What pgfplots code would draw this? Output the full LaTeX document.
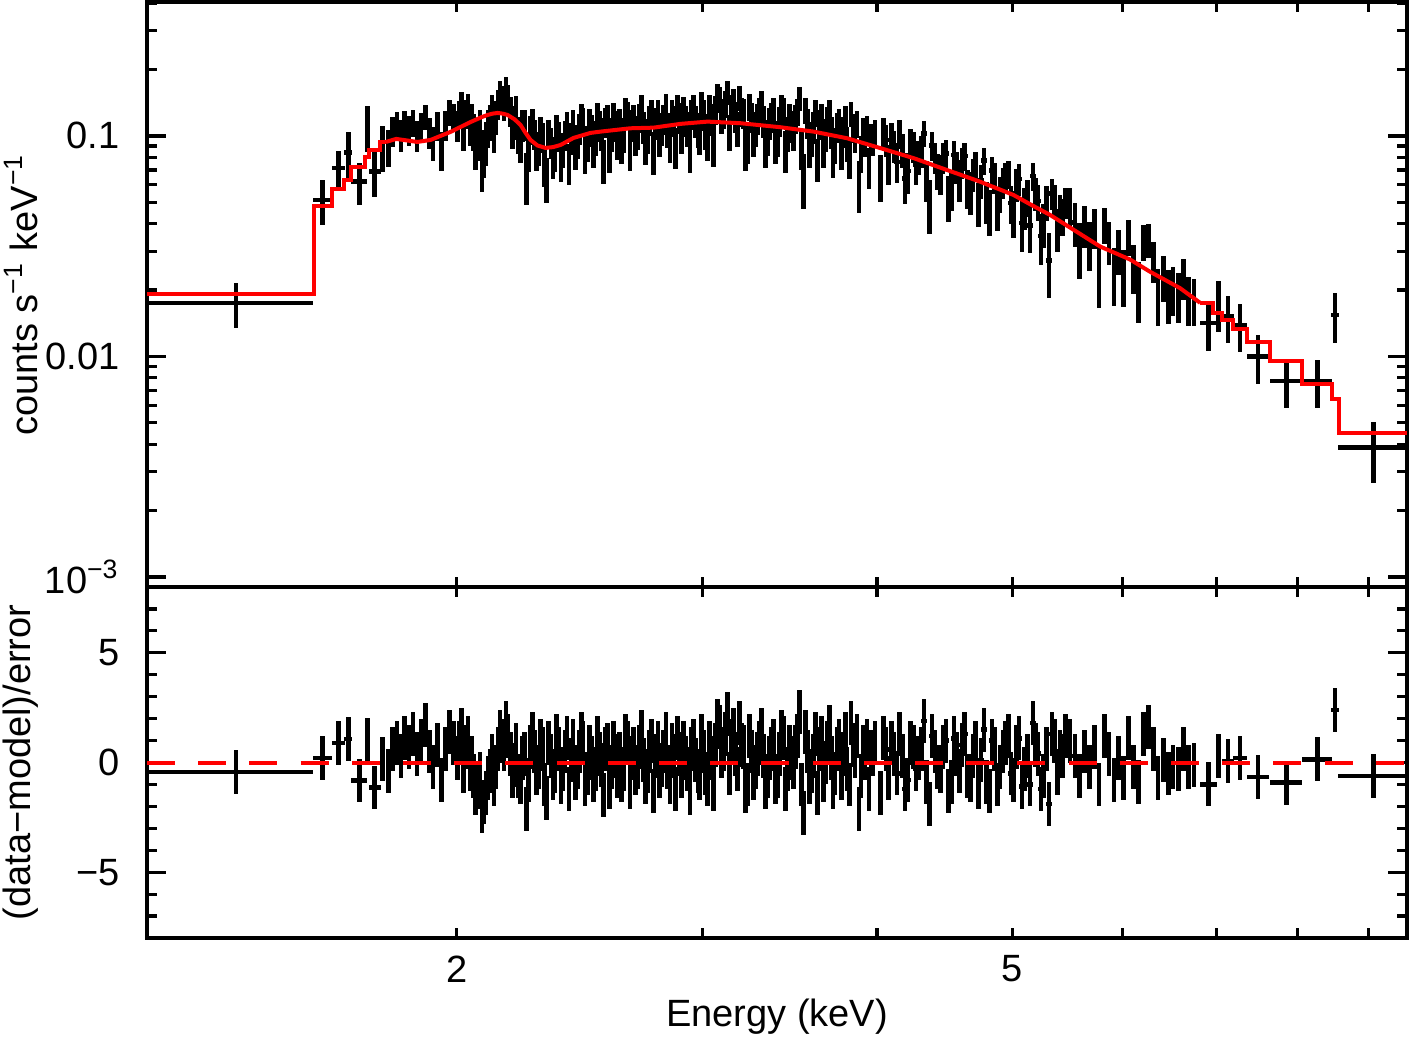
\documentclass[border=0pt]{standalone}
\usepackage{fontspec}
\setmainfont{Liberation Sans}
\usepackage{pgfplots}
\usepackage{pgfplotstable}
\pgfplotsset{compat=1.18}
\pgfplotstableread{
E dE y dy r
1.390 0.188 0.0175 0.0040 -0.44
1.603 0.024 0.0513 0.0120 0.21
1.645 0.018 0.0714 0.0137 0.89
1.673 0.011 0.0840 0.0200 1.07
1.703 0.022 0.0620 0.0134 -0.82
1.726 0.004 0.1102 0.0260 1.04
1.747 0.017 0.0689 0.0162 -1.14
1.769 0.004 0.0894 0.0210 0.14
1.788 0.004 0.0894 0.0170 -0.39
1.800 0.006 0.1058 0.0163 0.6
1.812 0.006 0.1116 0.0165 0.9
1.824 0.006 0.1012 0.0164 0.3
1.836 0.006 0.1136 0.0163 1.1
1.849 0.006 0.1064 0.0162 0.7
1.861 0.006 0.1154 0.0161 1.3
1.874 0.006 0.1003 0.0160 0.4
1.886 0.006 0.1104 0.0160 1.0
1.899 0.006 0.1226 0.0162 1.7
1.912 0.006 0.1038 0.0163 0.5
1.924 0.006 0.0936 0.0165 -0.2
1.937 0.006 0.1120 0.0168 0.8
1.950 0.006 0.0867 0.0171 -0.8
1.963 0.006 0.1125 0.0174 0.6
1.976 0.006 0.1285 0.0176 1.4
1.990 0.006 0.1222 0.0180 0.9
2.003 0.006 0.1119 0.0184 0.2
2.016 0.006 0.1386 0.0188 1.5
2.030 0.006 0.1262 0.0192 0.7
2.044 0.006 0.1093 0.0196 -0.3
2.057 0.006 0.1052 0.0199 -0.6
2.071 0.006 0.0970 0.0203 -1.1
2.085 0.006 0.0761 0.0207 -2.2
2.099 0.006 0.0942 0.0210 -1.4
2.113 0.007 0.1166 0.0213 -0.4
2.127 0.007 0.1047 0.0214 -1.0
2.141 0.007 0.1400 0.0216 0.6
2.156 0.007 0.1474 0.0214 1.0
2.170 0.007 0.1631 0.0212 1.8
2.185 0.007 0.1302 0.0207 0.4
2.199 0.007 0.1163 0.0201 -0.1
2.214 0.007 0.1026 0.0194 -0.6
2.229 0.007 0.1128 0.0185 0.2
2.244 0.007 0.0660 0.0175 -2.1
2.259 0.007 0.1073 0.0163 0.7
2.274 0.007 0.1019 0.0160 0.5
2.289 0.007 0.0887 0.0156 -0.2
2.305 0.007 0.0988 0.0152 0.6
2.320 0.007 0.0644 0.0150 -1.6
2.336 0.007 0.0937 0.0152 0.3
2.352 0.007 0.0838 0.0153 -0.4
2.367 0.007 0.1000 0.0154 0.6
2.383 0.007 0.0875 0.0157 -0.3
2.399 0.008 0.1121 0.0160 1.1
2.415 0.008 0.0982 0.0164 0.1
2.432 0.008 0.0867 0.0167 -0.7
2.448 0.008 0.1082 0.0169 0.5
2.464 0.008 0.1163 0.0172 0.9
2.481 0.008 0.0935 0.0174 -0.5
2.498 0.008 0.1068 0.0176 0.2
2.514 0.008 0.0986 0.0177 -0.3
2.531 0.008 0.1115 0.0177 0.4
2.548 0.008 0.0781 0.0178 -1.5
2.566 0.008 0.1197 0.0179 0.8
2.583 0.008 0.1024 0.0180 -0.2
2.600 0.008 0.1119 0.0181 0.3
2.617 0.009 0.1142 0.0182 0.4
2.635 0.009 0.1020 0.0183 -0.3
2.652 0.009 0.1245 0.0184 0.9
2.670 0.009 0.1120 0.0184 0.2
2.687 0.009 0.0993 0.0184 -0.5
2.705 0.009 0.1215 0.0185 0.7
2.723 0.009 0.1105 0.0185 0.1
2.741 0.009 0.1014 0.0185 -0.4
2.759 0.009 0.1275 0.0185 1.0
2.777 0.009 0.1149 0.0186 0.3
2.796 0.009 0.0988 0.0187 -0.6
2.814 0.010 0.1200 0.0188 0.5
2.833 0.010 0.1075 0.0189 -0.2
2.852 0.010 0.1272 0.0190 0.8
2.870 0.010 0.0896 0.0191 -1.2
2.889 0.010 0.1210 0.0193 0.4
2.908 0.010 0.1311 0.0193 0.9
2.928 0.010 0.1083 0.0194 -0.3
2.947 0.010 0.1262 0.0195 0.6
2.967 0.010 0.1169 0.0195 0.1
2.986 0.010 0.1016 0.0196 -0.7
3.006 0.010 0.1255 0.0197 0.5
3.026 0.010 0.0964 0.0197 -1.0
3.046 0.010 0.1198 0.0197 0.2
3.066 0.010 0.1314 0.0197 0.8
3.086 0.010 0.1468 0.0196 1.6
3.107 0.010 0.1270 0.0196 0.6
3.127 0.010 0.1580 0.0196 2.2
3.148 0.010 0.1342 0.0195 1.0
3.169 0.010 0.1223 0.0195 0.4
3.190 0.010 0.1491 0.0194 1.8
3.211 0.011 0.1273 0.0193 0.7
3.232 0.011 0.0940 0.0193 -1.0
3.253 0.011 0.1225 0.0192 0.5
3.275 0.011 0.1086 0.0191 -0.2
3.296 0.011 0.1291 0.0190 0.9
3.318 0.011 0.1172 0.0190 0.3
3.340 0.011 0.0997 0.0189 -0.6
3.362 0.011 0.1219 0.0188 0.6
3.384 0.011 0.0933 0.0187 -0.9
3.406 0.011 0.1171 0.0186 0.4
3.429 0.011 0.1295 0.0185 1.1
3.451 0.011 0.1030 0.0184 -0.3
3.474 0.011 0.1116 0.0183 0.2
3.497 0.011 0.1201 0.0182 0.7
3.520 0.012 0.1484 0.0181 2.3
3.543 0.012 0.0646 0.0180 -2.3
3.567 0.012 0.1145 0.0179 0.5
3.590 0.012 0.0978 0.0178 -0.4
3.614 0.012 0.1272 0.0177 1.3
3.638 0.012 0.1139 0.0176 0.6
3.662 0.012 0.0886 0.0174 -0.8
3.686 0.012 0.1174 0.0173 0.9
3.710 0.012 0.1043 0.0172 0.2
3.734 0.012 0.0916 0.0170 -0.5
3.759 0.012 0.1162 0.0169 1.0
3.784 0.012 0.1051 0.0167 0.4
3.809 0.013 0.0926 0.0166 -0.3
3.834 0.013 0.1259 0.0164 1.8
3.859 0.013 0.1002 0.0162 0.3
3.885 0.013 0.0606 0.0160 -2.1
3.910 0.013 0.1042 0.0158 0.7
3.936 0.013 0.1075 0.0156 1.0
3.962 0.013 0.0984 0.0154 0.5
3.988 0.013 0.1033 0.0152 0.9
4.024 0.018 0.0658 0.0158 -1.4
4.060 0.018 0.0960 0.0156 0.6
4.097 0.018 0.0990 0.0153 0.9
4.134 0.018 0.0763 0.0151 -0.5
4.171 0.019 0.0867 0.0148 0.3
4.209 0.019 0.0693 0.0146 -0.8
4.247 0.019 0.0894 0.0143 0.7
4.285 0.019 0.0807 0.0140 0.2
4.324 0.019 0.1027 0.0138 1.9
4.363 0.020 0.0494 0.0135 -1.9
4.402 0.020 0.0801 0.0132 0.5
4.442 0.020 0.0667 0.0129 -0.4
4.482 0.020 0.0831 0.0127 1.0
4.522 0.020 0.0579 0.0124 -0.9
4.563 0.020 0.0727 0.0122 0.4
4.604 0.021 0.0760 0.0120 0.8
4.645 0.021 0.0581 0.0117 -0.6
4.687 0.021 0.0672 0.0115 0.3
4.729 0.021 0.0500 0.0112 -1.1
4.772 0.021 0.0776 0.0110 1.5
4.815 0.022 0.0458 0.0108 -1.3
4.858 0.022 0.0648 0.0105 0.6
4.902 0.022 0.0551 0.0103 -0.2
4.946 0.022 0.0650 0.0101 0.9
4.991 0.022 0.0497 0.0098 -0.5
5.036 0.022 0.0605 0.0106 0.7
5.081 0.023 0.0402 0.0103 -1.1
5.127 0.023 0.0528 0.0100 0.3
5.173 0.023 0.0657 0.0097 1.8
5.219 0.023 0.0507 0.0094 0.4
5.266 0.024 0.0400 0.0091 -0.6
5.314 0.024 0.0273 0.0088 -1.9
5.362 0.024 0.0514 0.0086 1.0
5.410 0.024 0.0457 0.0083 0.5
5.459 0.024 0.0498 0.0080 1.2
5.500 0.022 0.0484 0.0094 1.0
5.545 0.022 0.0405 0.0091 0.3
5.590 0.022 0.0313 0.0088 -0.6
5.635 0.022 0.0396 0.0085 0.5
5.680 0.022 0.0326 0.0082 -0.2
5.725 0.022 0.0385 0.0079 0.7
5.770 0.022 0.0242 0.0076 -1.0
5.820 0.022 0.0399 0.0074 1.2
5.865 0.022 0.0333 0.0073 0.4
5.915 0.022 0.0240 0.0071 -0.8
5.960 0.022 0.0305 0.0070 0.2
6.010 0.022 0.0236 0.0068 -0.7
6.060 0.022 0.0350 0.0066 1.1
6.110 0.022 0.0256 0.0065 -0.2
6.160 0.022 0.0205 0.0063 -0.9
6.210 0.022 0.0332 0.0061 1.3
6.260 0.022 0.0339 0.0059 1.6
6.310 0.022 0.0272 0.0057 0.6
6.360 0.022 0.0194 0.0056 -0.7
6.420 0.025 0.0230 0.0054 0.1
6.470 0.025 0.0193 0.0053 -0.5
6.520 0.025 0.0203 0.0051 -0.2
6.580 0.025 0.0191 0.0049 -0.3
6.630 0.025 0.0229 0.0048 0.6
6.690 0.025 0.0184 0.0046 -0.2
6.750 0.025 0.0181 0.0044 -0.1
6.911 0.097 0.01415 0.0036 -0.99
7.026 0.012 0.01743 0.0045 0.29
7.139 0.069 0.01515 0.0037 0.06
7.282 0.084 0.01390 0.0034 0.21
7.502 0.142 0.00998 0.0025 -0.66
7.860 0.210 0.00774 0.0019 -0.92
8.270 0.200 0.00774 0.0019 0.14
8.517 0.050 0.01543 0.0039 2.39
9.071 0.510 0.00386 0.0012 -0.62
2.010 0.006 0.1260 0.0186 0.9
2.023 0.006 0.1040 0.0190 -0.4
2.037 0.006 0.1353 0.0194 1.1
2.050 0.006 0.1202 0.0198 0.2
2.064 0.006 0.0901 0.0201 -1.4
2.078 0.006 0.1102 0.0205 -0.5
2.092 0.006 0.0851 0.0208 -1.8
2.106 0.007 0.1096 0.0211 -0.7
2.120 0.007 0.1320 0.0214 0.3
2.134 0.007 0.1223 0.0215 -0.2
2.148 0.007 0.1566 0.0215 1.4
2.163 0.007 0.1383 0.0213 0.6
2.177 0.007 0.1486 0.0210 1.2
2.192 0.007 0.1078 0.0204 -0.6
2.206 0.007 0.1321 0.0198 0.8
2.221 0.007 0.0946 0.0190 -0.9
2.236 0.007 0.1131 0.0180 0.4
2.251 0.007 0.0858 0.0169 -0.8
2.266 0.007 0.1159 0.0161 1.3
2.281 0.007 0.0849 0.0158 -0.5
2.297 0.007 0.1062 0.0154 1.0
2.312 0.007 0.0739 0.0151 -1.0
2.328 0.007 0.1024 0.0151 0.9
2.344 0.007 0.0789 0.0152 -0.7
2.359 0.007 0.1087 0.0154 1.2
2.375 0.007 0.0775 0.0156 -0.9
2.391 0.008 0.1012 0.0159 0.5
2.407 0.008 0.0760 0.0162 -1.2
2.423 0.008 0.1141 0.0166 1.0
2.440 0.008 0.0957 0.0168 -0.2
2.456 0.008 0.1225 0.0171 1.3
2.472 0.008 0.0843 0.0173 -1.0
2.489 0.008 0.1150 0.0175 0.7
2.506 0.008 0.0895 0.0176 -0.8
2.522 0.008 0.1237 0.0177 1.1
2.539 0.008 0.1029 0.0178 -0.1
2.557 0.008 0.1159 0.0179 0.6
2.574 0.008 0.0859 0.0180 -1.1
2.591 0.008 0.1226 0.0181 0.9
2.608 0.009 0.0958 0.0181 -0.6
2.626 0.009 0.0926 0.0182 -0.8
2.643 0.009 0.1298 0.0183 1.2
2.661 0.009 0.0880 0.0184 -1.1
2.678 0.009 0.1195 0.0184 0.6
2.696 0.009 0.1049 0.0185 -0.2
2.714 0.009 0.1346 0.0185 1.4
2.732 0.009 0.0922 0.0185 -0.9
2.750 0.009 0.1182 0.0185 0.5
2.768 0.009 0.0851 0.0186 -1.3
2.787 0.009 0.1265 0.0186 0.9
2.805 0.010 0.1084 0.0188 -0.1
2.824 0.010 0.1355 0.0189 1.3
2.843 0.010 0.0946 0.0190 -0.9
2.861 0.010 0.1180 0.0191 0.3
2.880 0.010 0.1341 0.0192 1.1
2.899 0.010 0.1019 0.0193 -0.6
2.918 0.010 0.1178 0.0194 0.2
2.938 0.010 0.0871 0.0194 -1.4
2.957 0.010 0.1342 0.0195 1.0
2.977 0.010 0.1073 0.0196 -0.4
2.996 0.010 0.1391 0.0196 1.2
3.016 0.010 0.1060 0.0197 -0.5
3.036 0.010 0.1337 0.0197 0.9
3.056 0.010 0.0922 0.0197 -1.2
3.076 0.010 0.1529 0.0197 1.9
3.097 0.010 0.1212 0.0196 0.3
3.117 0.010 0.1405 0.0196 1.3
3.138 0.010 0.1051 0.0195 -0.5
3.159 0.010 0.1438 0.0195 1.5
3.180 0.010 0.1086 0.0194 -0.3
3.201 0.011 0.1295 0.0194 0.8
3.222 0.011 0.0885 0.0193 -1.3
3.243 0.011 0.1362 0.0192 1.2
3.264 0.011 0.0993 0.0192 -0.7
3.286 0.011 0.1198 0.0191 0.4
3.307 0.011 0.1403 0.0190 1.5
3.329 0.011 0.0905 0.0189 -1.1
3.351 0.011 0.1146 0.0188 0.2
3.373 0.011 0.1292 0.0188 1.0
3.395 0.011 0.0987 0.0187 -0.6
3.418 0.011 0.1354 0.0186 1.4
3.440 0.011 0.0866 0.0185 -1.2
3.463 0.011 0.1211 0.0184 0.7
3.486 0.011 0.1039 0.0183 -0.2
3.509 0.012 0.1288 0.0182 1.2
3.532 0.012 0.0883 0.0181 -1.0
3.555 0.012 0.1310 0.0180 1.4
3.579 0.012 0.0891 0.0179 -0.9
3.602 0.012 0.1099 0.0178 0.3
3.626 0.012 0.0791 0.0176 -1.4
3.650 0.012 0.1223 0.0175 1.1
3.674 0.012 0.1022 0.0174 0.0
3.698 0.012 0.1290 0.0172 1.6
3.722 0.012 0.0817 0.0171 -1.1
3.747 0.012 0.1099 0.0169 0.6
3.772 0.012 0.0871 0.0168 -0.7
3.797 0.013 0.1197 0.0167 1.3
3.822 0.013 0.0805 0.0165 -1.0
3.847 0.013 0.1089 0.0163 0.8
3.872 0.013 0.1141 0.0161 1.2
3.898 0.013 0.0841 0.0159 -0.6
3.923 0.013 0.0956 0.0157 0.2
3.949 0.013 0.0727 0.0155 -1.2
3.975 0.013 0.0963 0.0153 0.4
4.042 0.018 0.1046 0.0157 1.1
4.078 0.018 0.0751 0.0155 -0.7
4.115 0.018 0.0906 0.0152 0.4
4.152 0.018 0.1025 0.0150 1.3
4.190 0.019 0.0640 0.0147 -1.2
4.228 0.019 0.0932 0.0144 0.9
4.266 0.019 0.0744 0.0142 -0.3
4.304 0.019 0.0855 0.0139 0.6
4.343 0.019 0.0635 0.0136 -0.9
4.382 0.020 0.0903 0.0134 1.2
4.422 0.020 0.0701 0.0131 -0.2
4.462 0.020 0.0802 0.0128 0.7
4.502 0.020 0.0535 0.0126 -1.3
4.542 0.020 0.0821 0.0123 1.1
4.583 0.020 0.0623 0.0121 -0.4
4.624 0.021 0.0812 0.0118 1.3
4.666 0.021 0.0552 0.0116 -0.8
4.708 0.021 0.0733 0.0114 0.9
4.750 0.021 0.0629 0.0111 0.1
4.793 0.021 0.0507 0.0109 -0.9
4.836 0.022 0.0699 0.0107 1.0
4.880 0.022 0.0475 0.0104 -1.0
4.924 0.022 0.0617 0.0102 0.5
4.968 0.022 0.0672 0.0100 1.2
5.013 0.022 0.0453 0.0108 -0.8
5.058 0.022 0.0638 0.0105 1.1
5.104 0.023 0.0477 0.0101 -0.3
5.150 0.023 0.0393 0.0098 -1.0
5.196 0.023 0.0552 0.0095 0.8
5.242 0.023 0.0351 0.0092 -1.2
5.290 0.024 0.0502 0.0090 0.6
5.338 0.024 0.0548 0.0087 1.3
5.386 0.024 0.0380 0.0084 -0.5
5.434 0.024 0.0434 0.0082 0.3
}\spec
\begin{document}
\fontsize{9.5}{11.4}\selectfont
\begin{tikzpicture}
\useasboundingbox (0,0) rectangle (352.25pt,259.5pt);
% ---------- top panel ----------
\begin{axis}[at={(36.75pt,112.75pt)}, anchor=south west,
  scale only axis, width=315pt, height=146.25pt,
  xmode=log, xmin=1.2, xmax=9.59,
  ymode=log, ymin=9e-4, ymax=0.405,
  axis line style={line width=1pt},
  tick style={black, line width=0.8pt},
  major tick length=4.75pt, minor tick length=2.5pt,
  xtick={2,5}, minor xtick={2,3,4,5,6,7,8,9}, xticklabels={},
  every major x tick/.append style={draw=none},
  ytick={0.001,0.01,0.1}, yticklabels={10\textsuperscript{−3},0.01,0.1},
  minor ytick={0.002,0.003,0.004,0.005,0.006,0.007,0.008,0.009,0.02,0.03,0.04,0.05,0.06,0.07,0.08,0.09,0.2,0.3,0.4},
  tick label style={font=\fontsize{9.5}{11.4}\selectfont},
  label style={font=\fontsize{9.5}{11.4}\selectfont},
  yticklabel style={xshift=-3.5pt},
  ylabel={counts s\textsuperscript{−1} keV\textsuperscript{−1}},
  ylabel style={at={(axis description cs:-0.1,0.5)}, anchor=center},
]
\addplot[draw=none, mark=none,
  error bars/.cd, x dir=both, x explicit, y dir=both, y explicit,
  error mark=none, error bar style={draw=black, line width=1.15pt}]
  table[x=E, y=y, x error=dE, y error=dy] {\spec};
\addplot[red, line width=1pt, const plot] coordinates {
(1.2,0.0192) (1.580,0.04815) (1.628,0.05747) (1.660,0.06317) (1.679,0.07234)
(1.719,0.08033) (1.730,0.0864) (1.762,0.0939) (1.780,0.0939)};
\addplot[red, line width=1pt, sharp plot] coordinates {
(1.780,0.0939) (1.81,0.0969) (1.875,0.0939) (1.916,0.0959) (1.980,0.1043)
(2.047,0.1157) (2.085,0.1218) (2.105,0.1245) (2.122,0.1262) (2.140,0.1271)
(2.158,0.1262) (2.175,0.1245) (2.200,0.1190) (2.222,0.1122) (2.240,0.1035)
(2.259,0.0959) (2.285,0.0905) (2.316,0.0882) (2.345,0.0890) (2.374,0.0910)
(2.425,0.0979) (2.494,0.1032) (2.536,0.1046) (2.664,0.1083) (2.767,0.1090)
(2.893,0.1134) (3.025,0.1161) (3.193,0.1142) (3.411,0.1095) (3.603,0.1046)
(3.808,0.0976) (4.024,0.0880) (4.252,0.0792) (4.489,0.0701) (4.743,0.0620)
(5.010,0.0540) (5.150,0.0490) (5.323,0.0438) (5.781,0.0315) (6.074,0.0275)
(6.278,0.0242) (6.596,0.0204) (6.818,0.0175)};
\addplot[red, line width=1pt, const plot] coordinates {
(6.818,0.0175) (6.965,0.01575) (7.069,0.01464) (7.199,0.01333) (7.367,0.01163)
(7.651,0.00954) (8.065,0.0075) (8.475,0.00641) (8.573,0.0045) (9.59,0.0045)};
\end{axis}
% ---------- bottom panel ----------
\begin{axis}[at={(36.75pt,25pt)}, anchor=south west,
  scale only axis, width=315pt, height=87.75pt,
  xmode=log, xmin=1.2, xmax=9.59,
  ymin=-8, ymax=8,
  axis line style={line width=1pt},
  tick style={black, line width=0.8pt},
  major tick length=4.75pt, minor tick length=2.5pt,
  xtick={2,5}, minor xtick={2,3,4,5,6,7,8,9}, xticklabels={2,5},
  every major x tick/.append style={draw=none},
  ytick={-5,0,5}, yticklabels={−5,0,5},
  minor ytick={-7,-6,-4,-3,-2,-1,1,2,3,4,6,7},
  tick label style={font=\fontsize{9.5}{11.4}\selectfont},
  label style={font=\fontsize{9.5}{11.4}\selectfont},
  yticklabel style={xshift=-3.5pt},
  xticklabel style={yshift=-1pt},
  xlabel={Energy (keV)},
  xlabel style={at={(axis description cs:0.5,0)}, anchor=center, yshift=-19.75pt},
  ylabel={(data−model)/error},
  ylabel style={at={(axis description cs:-0.1,0.5)}, anchor=center},
]
\addplot[draw=none, mark=none,
  error bars/.cd, x dir=both, x explicit, y dir=both, y fixed=1,
  error mark=none, error bar style={draw=black, line width=1.15pt}]
  table[x=E, y=r, x error=dE] {\spec};
\addplot[red, line width=1pt, dash pattern=on 7pt off 5.8pt] coordinates {(1.2,0) (9.59,0)};
\end{axis}
\end{tikzpicture}
\end{document}
